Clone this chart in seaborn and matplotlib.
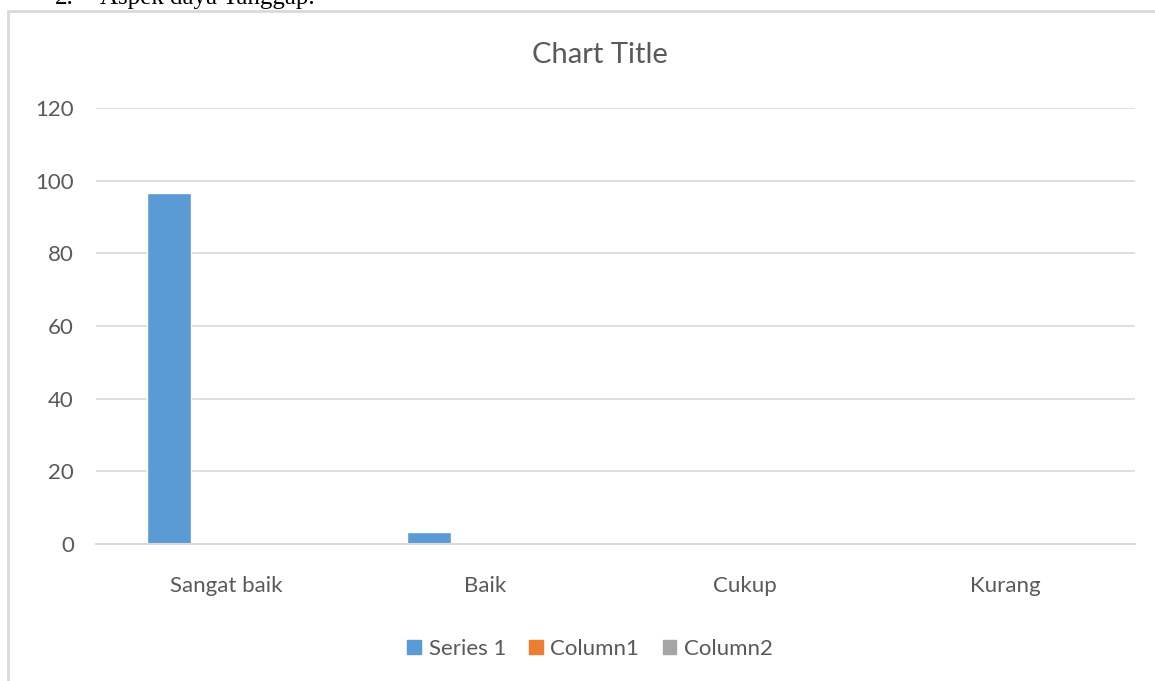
import matplotlib
matplotlib.use("Agg")
import matplotlib.pyplot as plt
from matplotlib.patches import Rectangle
import seaborn as sns
import pandas as pd

categories = ["Sangat baik", "Baik", "Cukup", "Kurang"]
series_names = ["Series 1", "Column1", "Column2"]
series_1 = [96.7, 3.3, 0, 0]
column_1 = [0, 0, 0, 0]
column_2 = [0, 0, 0, 0]
colors = ["#5B9BD5", "#ED7D31", "#A5A5A5"]
y_ticks = [0, 20, 40, 60, 80, 100, 120]

df = pd.DataFrame({
    "kategori": categories * 3,
    "seri": [s for s in series_names for _ in categories],
    "nilai": series_1 + column_1 + column_2,
})

sns.set_theme(style="white")
plt.rcParams["font.family"] = ["Lato", "DejaVu Sans"]
grey = "#595959"

fig = plt.figure(figsize=(11.55, 6.81), dpi=100)
ax = fig.add_axes([96 / 1155, 1 - 544 / 681, 1039 / 1155, 436 / 681])

sns.barplot(data=df, x="kategori", y="nilai", hue="seri", palette=colors,
            width=0.658, gap=0.23, ax=ax, legend=False, saturation=1)

ax.set_ylim(0, 120)
ax.set_xlim(-0.5, 3.5)
ax.set_yticks(y_ticks)
ax.yaxis.grid(True, color="#d9d9d9", linewidth=1.2)
ax.set_axisbelow(True)
for side in ["left", "right", "top"]:
    ax.spines[side].set_visible(False)
ax.spines["bottom"].set_color("#d9d9d9")
ax.spines["bottom"].set_linewidth(1.5)
ax.set_xlabel("")
ax.set_ylabel("")
ax.tick_params(axis="y", length=0, pad=16, labelsize=16, labelcolor=grey)
ax.tick_params(axis="x", length=0, pad=23, labelsize=16, labelcolor=grey)

fig.text(600 / 1155, 1 - 55 / 681, "Chart Title", ha="center", va="center",
         fontsize=21, color=grey)

# legend
handles = [Rectangle((0, 0), 1, 1, color=c) for c in colors]
fig.legend(handles, series_names, loc="center", bbox_to_anchor=(590 / 1155, 1 - 649 / 681),
           ncol=3, frameon=False, fontsize=16, labelcolor=grey,
           handlelength=0.6, handleheight=0.6, handletextpad=0.35, columnspacing=1.05)

# chart border
fig.patches.append(Rectangle((8 / 1155, -0.1), 1.1, 1 - 11 / 681 + 0.1,
                             transform=fig.transFigure, fill=False,
                             edgecolor="#d9d9d9", linewidth=2))

# heading from the document above the chart (cut off at the top, as in the source)
fig.text(55 / 1155, 1 - 4 / 681, "2.", family=["Liberation Serif"], fontsize=18,
         va="baseline", color="black")
fig.text(100 / 1155, 1 - 4 / 681, "Aspek daya Tanggap.", family=["Liberation Serif"],
         fontsize=18, va="baseline", color="black")

fig.savefig("out.png", dpi=100)
